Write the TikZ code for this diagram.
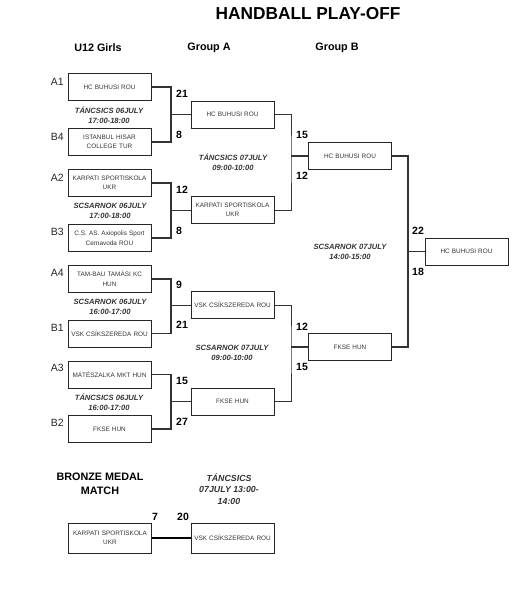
\documentclass[tikz,border=0pt]{standalone}
\usepackage{fontspec}
\setmainfont{Liberation Sans}
\usetikzlibrary{positioning}
\tikzset{
  tm_box/.style = {draw=black!85, line width=1pt, minimum width=83pt,
    minimum height=27pt, inner sep=1pt, align=center, text width=80pt,
    font=\fontsize{6.4}{9.5}\selectfont, text=black!80},
  sc_n/.style = {anchor=west, inner sep=0pt, font=\bfseries\fontsize{10.5}{12}\selectfont},
  seed_n/.style = {anchor=east, inner sep=0pt, font=\fontsize{10.5}{12}\selectfont, text=black!85},
  day_n/.style = {align=center, inner sep=0pt,
    font=\bfseries\itshape\fontsize{7.6}{10}\selectfont, text=black!80},
  hd_n/.style = {inner sep=0pt, font=\bfseries\fontsize{10.8}{12.5}\selectfont},
  brk/.style = {draw=black!80, line width=1.1pt}
}
\begin{document}
\begin{tikzpicture}[x=1pt,y=-1pt]
\useasboundingbox (0,0) rectangle (530,600);
% titles
\node [inner sep=0pt, font=\bfseries\fontsize{17.3}{19}\selectfont] (title) at (308,14) {HANDBALL PLAY-OFF};
\node [hd_n] (hU) at (98,48) {U12 Girls};
\node [hd_n] (hA) at (209,48) {Group A};
\node [hd_n] (hB) at (337,48) {Group B};

% first round
\node [tm_box] (a1) at (109.5,87) {HC BUHUSI ROU};
\node [tm_box] (b4) at (109.5,142) {ISTANBUL HISAR\\COLLEGE TUR};
\node [tm_box] (a2) at (109.5,183) {KARPATI SPORTISKOLA\\UKR};
\node [tm_box] (b3) at (109.5,238) {C.S. AS. Axiopolis Sport\\Cernavoda ROU};
\node [tm_box] (a4) at (109.5,279) {TAM-BAU TAMÁSI KC\\HUN};
\node [tm_box] (b1) at (109.5,333.5) {VSK CSÍKSZEREDA ROU};
\node [tm_box] (a3) at (109.5,374.5) {MÁTÉSZALKA MKT HUN};
\node [tm_box] (b2) at (109.5,429) {FKSE HUN};

\node [seed_n] (la1) at (64,82) {A1};
\node [seed_n] (lb4) at (64,137) {B4};
\node [seed_n] (la2) at (64,178) {A2};
\node [seed_n] (lb3) at (64,232) {B3};
\node [seed_n] (la4) at (64,273) {A4};
\node [seed_n] (lb1) at (64,328) {B1};
\node [seed_n] (la3) at (64,368) {A3};
\node [seed_n] (lb2) at (64,423) {B2};

\node [day_n] (d1) at (109,115) {TÁNCSICS 06JULY\\17:00-18:00};
\node [day_n] (d2) at (110,211) {SCSARNOK 06JULY\\17:00-18:00};
\node [day_n] (d3) at (110,307) {SCSARNOK 06JULY\\16:00-17:00};
\node [day_n] (d4) at (109,402) {TÁNCSICS 06JULY\\16:00-17:00};

% group A
\node [tm_box] (ga1) at (232.5,114.5) {HC BUHUSI ROU};
\node [tm_box] (ga2) at (232.5,210) {KARPATI SPORTISKOLA\\UKR};
\node [tm_box] (ga3) at (232.5,305) {VSK CSÍKSZEREDA ROU};
\node [tm_box] (ga4) at (232.5,401.5) {FKSE HUN};

\coordinate (j1) at (171,114.5);
\coordinate (j2) at (171,210);
\coordinate (j3) at (171,305);
\coordinate (j4) at (171,401.5);
\draw [brk] (a1.east) -| (j1) |- (b4.east);
\draw [brk] (a2.east) -| (j2) |- (b3.east);
\draw [brk] (a4.east) -| (j3) |- (b1.east);
\draw [brk] (a3.east) -| (j4) |- (b2.east);
\foreach \j/\g in {j1/ga1, j2/ga2, j3/ga3, j4/ga4}
  \draw [brk, line width=0.7pt] (\j) -- (\g.west);

\node [sc_n] at (176,94) {21};
\node [sc_n] at (176,135) {8};
\node [sc_n] at (176,190) {12};
\node [sc_n] at (176,231) {8};
\node [sc_n] at (176,285) {9};
\node [sc_n] at (176,325) {21};
\node [sc_n] at (176,381) {15};
\node [sc_n] at (176,422) {27};

\node [day_n] (d5) at (233,162) {TÁNCSICS 07JULY\\09:00-10:00};
\node [day_n] (d6) at (232,353) {SCSARNOK 07JULY\\09:00-10:00};

% group B
\node [tm_box] (gb1) at (350,156) {HC BUHUSI ROU};
\node [tm_box] (gb2) at (350,347) {FKSE HUN};
\coordinate (k1) at (291,156);
\coordinate (k2) at (291,347);
\draw [brk, line width=0.7pt] (ga1.east) -| (k1) |- (ga2.east);
\draw [brk, line width=0.7pt] (ga3.east) -| (k2) |- (ga4.east);
\draw [brk] (k1) -- (gb1.west);
\draw [brk] (k2) -- (gb2.west);

\node [sc_n] at (296,135) {15};
\node [sc_n] at (296,176) {12};
\node [sc_n] at (296,327) {12};
\node [sc_n] at (296,367) {15};

% final
\node [tm_box] (fin) at (466.5,251.5) {HC BUHUSI ROU};
\coordinate (m1) at (408,251.5);
\draw [brk] (gb1.east) -| (m1) |- (gb2.east);
\draw [brk] (m1) -- (fin.west);
\node [sc_n] at (412,231) {22};
\node [sc_n] at (412,272) {18};
\node [day_n] (d7) at (350,252) {SCSARNOK 07JULY\\14:00-15:00};

% bronze medal match
\node [hd_n, align=center] (hbr) at (100,484) {BRONZE MEDAL\\[1pt]MATCH};
\node [day_n, font=\bfseries\itshape\fontsize{8.8}{11.5}\selectfont] (d8) at (229,489) {TÁNCSICS\\07JULY 13:00-\\14:00};
\node [tm_box, minimum height=30pt] (br1) at (110,538) {KARPATI SPORTISKOLA\\UKR};
\node [tm_box, minimum height=30pt] (br2) at (232.5,538) {VSK CSÍKSZEREDA ROU};
\draw [brk, line width=1.7pt, draw=black] (br1.east) -- (br2.west);
\node [sc_n] at (152,517) {7};
\node [sc_n] at (177,517) {20};
\end{tikzpicture}
\end{document}
